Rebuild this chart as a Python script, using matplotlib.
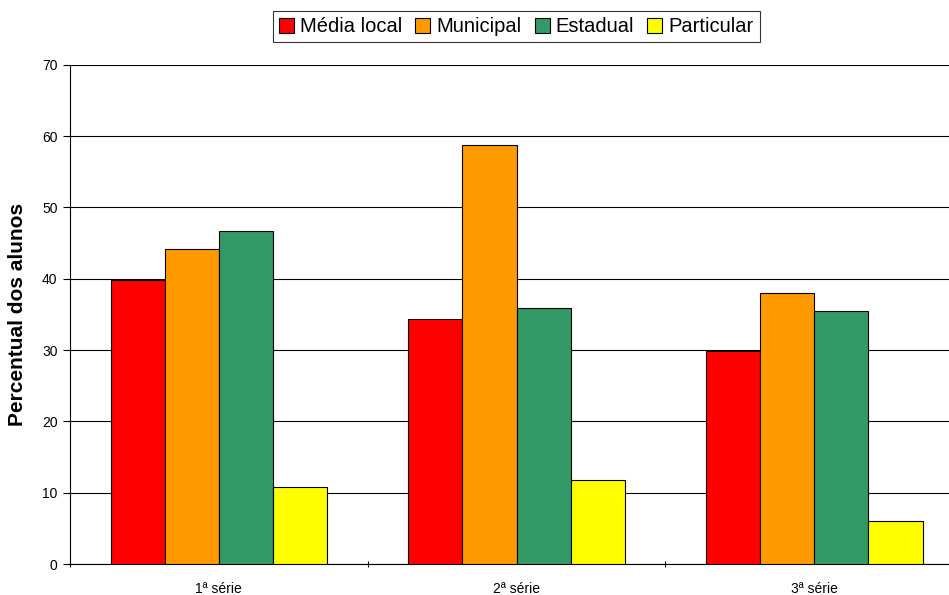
import numpy as np
import matplotlib.pyplot as plt

plt.rcParams['font.family'] = ['Liberation Sans', 'DejaVu Sans']

categories = ['1ª série', '2ª série', '3ª série']
series_names = ['Média local', 'Municipal', 'Estadual', 'Particular']
media_local = [39.8, 34.4, 29.9]
municipal = [44.2, 58.8, 38.0]
estadual = [46.7, 35.9, 35.5]
particular = [10.8, 11.8, 6.0]
colors = ['#FF0000', '#FF9900', '#339966', '#FFFF00']

values = [media_local, municipal, estadual, particular]

fig = plt.figure(figsize=(9.49, 5.95), dpi=100)
# plot area runs past the right edge of the picture, like the original
ax = fig.add_axes([0.0738, 0.052, 0.941, 0.839])

x = np.arange(len(categories))
w = 0.182
for i, (name, vals) in enumerate(zip(series_names, values)):
    ax.bar(x + (i - 1.5) * w, vals, width=w, color=colors[i],
           edgecolor='black', linewidth=0.8, label=name, zorder=3)

ax.set_xlim(-0.5, 2.5)
ax.set_ylim(0, 70)
ax.set_yticks(range(0, 71, 10))
ax.yaxis.grid(True, color='black', linewidth=0.8, zorder=0)
ax.set_xticks(x)
ax.set_xticklabels(categories, fontsize=10)
ax.tick_params(axis='x', length=0, pad=13)
ax.set_xticks([-0.5, 0.5, 1.5, 2.5], minor=True)
ax.tick_params(axis='x', which='minor', length=5, direction='inout', width=0.8)
ax.tick_params(axis='y', labelsize=10, length=5, width=0.8, pad=4)
for s in ['top', 'right']:
    ax.spines[s].set_visible(False)
ax.spines['left'].set_linewidth(0.8)
ax.spines['bottom'].set_linewidth(0.8)

ax.set_ylabel('Percentual dos alunos', fontsize=15, fontweight='bold', labelpad=11)

leg = fig.legend(loc='center', bbox_to_anchor=(0.544, 0.955), ncol=4,
                 fontsize=14.5, frameon=True, fancybox=False, edgecolor='black',
                 handlelength=0.75, handleheight=0.75, handletextpad=0.3,
                 columnspacing=0.65, borderpad=0.3)
leg.get_frame().set_linewidth(0.8)

fig.savefig('out.png', dpi=100)
